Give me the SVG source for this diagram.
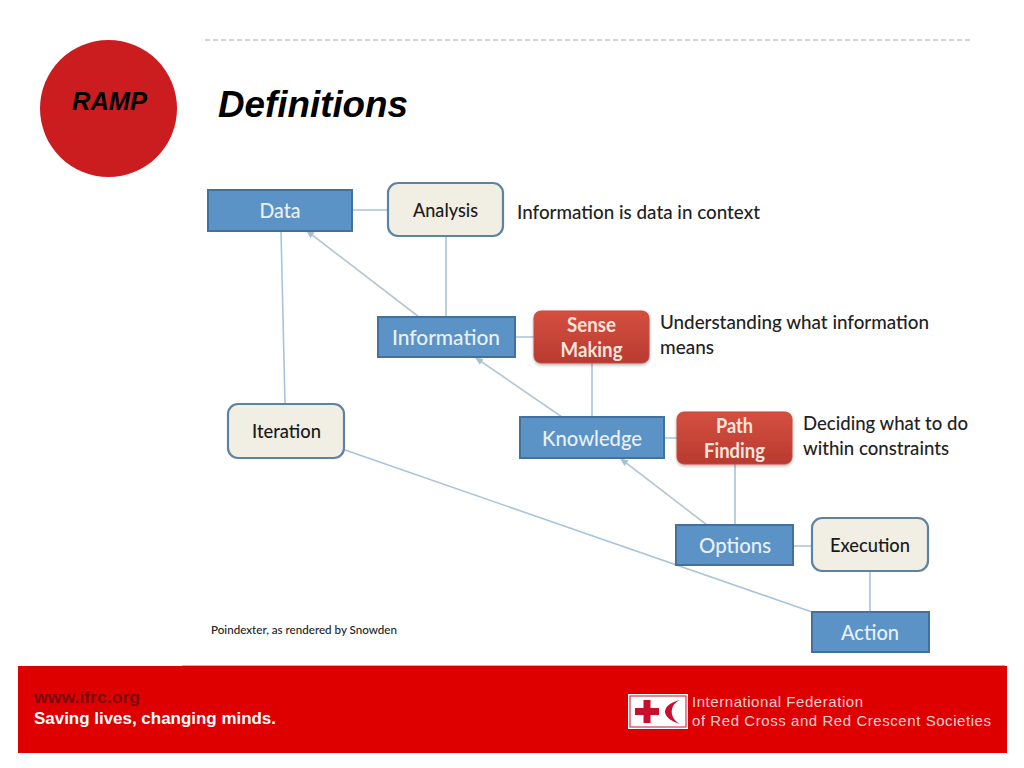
<svg xmlns="http://www.w3.org/2000/svg" width="1024" height="768" viewBox="0 0 1024 768">
<defs>
<linearGradient id="redg" x1="0" y1="0" x2="0" y2="1"><stop offset="0" stop-color="#d4503f"/><stop offset="1" stop-color="#b93a30"/></linearGradient>
<marker id="arr" markerWidth="8" markerHeight="8" refX="7" refY="3.500" orient="auto" markerUnits="userSpaceOnUse"><path d="M0 0L8 3.500L0 7Z" fill="#a9bfd0"/></marker>
<filter id="sh" x="-10%" y="-10%" width="120%" height="125%"><feDropShadow dx="0" dy="1.500" stdDeviation="1.500" flood-color="#000" flood-opacity="0.3"/></filter>
</defs>
<style>
text{font-family:Lato,"Open Sans","Noto Sans",sans-serif}
.blue rect{fill:#5b93c7;stroke:#41719c;stroke-width:2}
.cream rect{fill:#f1eee4;stroke:#5d83a3;stroke-width:2.2}
.red rect{fill:url(#redg);stroke:#c9473b;stroke-width:1;filter:url(#sh)}
.nt{font-size:22px;font-weight:500;text-anchor:middle;fill:#e9f1f8}
.ct{font-size:20px;font-weight:500;text-anchor:middle;fill:#1a1a1a}
.rt{font-size:20px;font-weight:700;text-anchor:middle;fill:#f8e4da}
.note{font-size:20px;font-weight:500;fill:#222}
.c{fill:none;stroke:#a9c4da;stroke-width:1.6}
.d{fill:none;stroke:#b5c7d3;stroke-width:1.6;marker-end:url(#arr)}
.h{font-family:"Liberation Sans",Arial,sans-serif;font-weight:700;font-style:italic;fill:#000}
.ft{font-family:"Liberation Sans",Arial,sans-serif}
</style>
<rect width="1024" height="768" fill="#fff"/>
<path d="M205 40H970" stroke="#a8a8a8" stroke-width="1" stroke-dasharray="5 3" fill="none"/>
<g id="badge"><circle cx="108.500" cy="108.500" r="68.500" fill="#cb1d20"/><text class="h" x="72" y="110" font-size="25" textLength="75" lengthAdjust="spacingAndGlyphs">RAMP</text></g>
<text class="h" x="218" y="117" font-size="36" textLength="190" lengthAdjust="spacingAndGlyphs">Definitions</text>
<g id="connectors">
<path class="c" d="M352 210H388M446 236V317M281 231L285 404M515 337H534M592 363V417M664 438H677M735 464V525M793 546H812M870 571V612M345 450L812 612"/>
<path class="d" d="M419 317L307 231"/>
<path class="d" d="M562 417L476 358"/>
<path class="d" d="M707 525L621 459"/>
</g>
<g id="data" class="blue"><rect x="208" y="190" width="144" height="41"/><text class="nt" x="280" y="218" textLength="41" lengthAdjust="spacingAndGlyphs">Data</text></g>
<g id="analysis" class="cream"><rect x="388" y="183" width="115" height="53" rx="10"/><text class="ct" x="445.500" y="217" textLength="65" lengthAdjust="spacingAndGlyphs">Analysis</text></g>
<text class="note" x="517" y="219" textLength="243" lengthAdjust="spacingAndGlyphs">Information is data in context</text>
<g id="information" class="blue"><rect x="378" y="317" width="137" height="40"/><text class="nt" x="446" y="345" textLength="108" lengthAdjust="spacingAndGlyphs">Information</text></g>
<g id="sense-making" class="red"><rect x="534" y="311" width="115" height="52" rx="7"/><text class="rt" x="591.500" y="332" textLength="49" lengthAdjust="spacingAndGlyphs">Sense</text><text class="rt" x="591.500" y="357" textLength="62" lengthAdjust="spacingAndGlyphs">Making</text></g>
<text class="note"><tspan x="660" y="329" textLength="269" lengthAdjust="spacingAndGlyphs">Understanding what information</tspan><tspan x="660" y="354" textLength="54" lengthAdjust="spacingAndGlyphs">means</tspan></text>
<g id="knowledge" class="blue"><rect x="520" y="417" width="144" height="41"/><text class="nt" x="592" y="446" textLength="100" lengthAdjust="spacingAndGlyphs">Knowledge</text></g>
<g id="path-finding" class="red"><rect x="677" y="412" width="115" height="52" rx="7"/><text class="rt" x="734.500" y="433" textLength="37" lengthAdjust="spacingAndGlyphs">Path</text><text class="rt" x="734.500" y="458" textLength="61" lengthAdjust="spacingAndGlyphs">Finding</text></g>
<text class="note"><tspan x="803" y="430" textLength="165" lengthAdjust="spacingAndGlyphs">Deciding what to do</tspan><tspan x="803" y="455" textLength="146" lengthAdjust="spacingAndGlyphs">within constraints</tspan></text>
<g id="iteration" class="cream"><rect x="228" y="404" width="116" height="54" rx="10"/><text class="ct" x="286.500" y="438" textLength="69" lengthAdjust="spacingAndGlyphs">Iteration</text></g>
<g id="options" class="blue"><rect x="676" y="525" width="117" height="40"/><text class="nt" x="735" y="553" textLength="72" lengthAdjust="spacingAndGlyphs">Options</text></g>
<g id="execution" class="cream"><rect x="812" y="518" width="116" height="53" rx="10"/><text class="ct" x="870" y="552" textLength="80" lengthAdjust="spacingAndGlyphs">Execution</text></g>
<g id="action" class="blue"><rect x="812" y="612" width="117" height="40"/><text class="nt" x="870" y="640" textLength="58" lengthAdjust="spacingAndGlyphs">Action</text></g>
<text x="211" y="634" font-size="12" font-weight="500" fill="#222" textLength="186" lengthAdjust="spacingAndGlyphs">Poindexter, as rendered by Snowden</text>
<g id="footer">
<rect x="182" y="665" width="823" height="2" fill="#e8a0a0"/>
<rect x="18" y="666" width="989" height="87" fill="#de0000"/>
<text class="ft" x="34" y="703" font-size="16" font-weight="700" fill="#7c0c0c" textLength="106" lengthAdjust="spacingAndGlyphs">www.ifrc.org</text>
<text class="ft" x="34" y="724" font-size="17" font-weight="700" fill="#fff" textLength="242" lengthAdjust="spacingAndGlyphs">Saving lives, changing minds.</text>
<rect x="628" y="694" width="60" height="35" fill="#fff"/>
<rect x="630" y="696" width="56" height="31" fill="none" stroke="#c8102e" stroke-width="1"/>
<path d="M647 700V723M635 711.500H659" stroke="#c8102e" stroke-width="7" fill="none"/>
<path d="M680 700C660 705 660 718 680 724C669 718 669 705 680 700Z" fill="#c8102e"/>
<text class="ft" x="692" y="707" font-size="15" fill="#f3d0d0" textLength="171" lengthAdjust="spacing">International Federation</text>
<text class="ft" x="692" y="726" font-size="15" fill="#f3d0d0" textLength="299" lengthAdjust="spacing">of Red Cross and Red Crescent Societies</text>
</g>
</svg>
